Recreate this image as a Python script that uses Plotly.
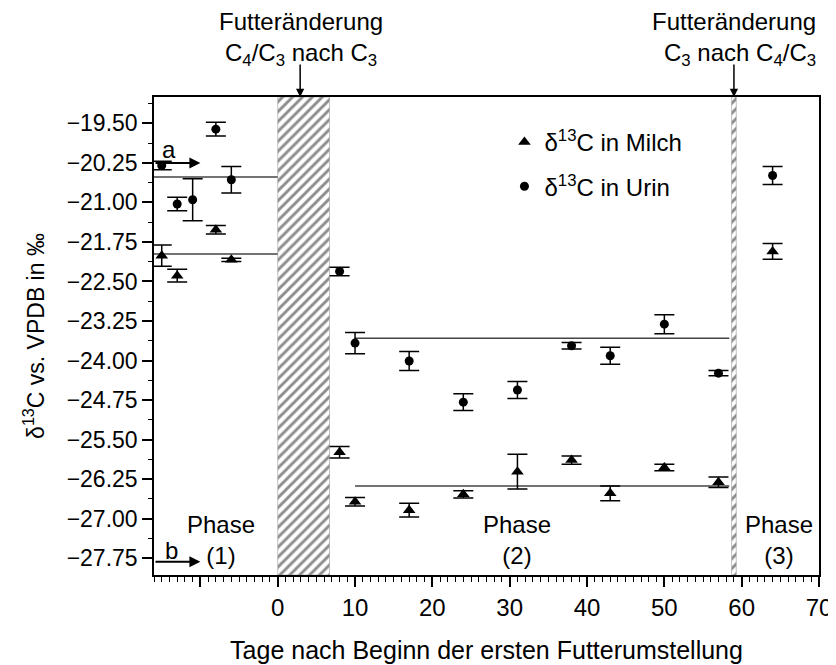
import plotly.graph_objects as go

# days after start of first feed change
milch_days = [-15, -13, -8, -6, 8, 10, 17, 24, 31, 38, 43, 50, 57, 64]
milch_d13c = [-22.01, -22.39, -21.52, -22.09, -25.74, -26.68, -26.84, -26.54,
              -26.11, -25.89, -26.52, -26.03, -26.31, -21.93]
milch_err = [0.20, 0.12, 0.08, 0.03, 0.11, 0.08, 0.13, 0.07,
             0.33, 0.08, 0.14, 0.06, 0.10, 0.15]

urin_days = [-15, -13, -11, -8, -6, 8, 10, 17, 24, 31, 38, 43, 50, 57, 64]
urin_d13c = [-20.30, -21.03, -20.95, -19.61, -20.57, -22.31, -23.67, -24.01,
             -24.79, -24.56, -23.72, -23.91, -23.31, -24.24, -20.49]
urin_err = [0.08, 0.13, 0.40, 0.13, 0.25, 0.08, 0.20, 0.18,
            0.16, 0.16, 0.06, 0.16, 0.18, 0.05, 0.17]

# phase mean lines (phase 1 and phase 2)
mean_start = [-16, 10]
mean_end = [0, 58.4]
mean_urin = [-20.52, -23.58]
mean_milch = [-21.98, -26.38]

# feed change periods (hatched)
change_start = [0, 58.7]
change_end = [6.7, 59.3]

X_RANGE = [-16, 70]
Y_RANGE = [-28.07, -19.0]

FONT = "Liberation Sans, Arial, sans-serif"

fig = go.Figure()

# hatched feed-change periods
fig.add_trace(go.Bar(
    x=[(s + e) / 2 for s, e in zip(change_start, change_end)],
    width=[e - s for s, e in zip(change_start, change_end)],
    base=Y_RANGE[0],
    y=[Y_RANGE[1] - Y_RANGE[0]] * len(change_start),
    marker=dict(
        color='white',
        line=dict(color='#999999', width=0.6),
        pattern=dict(shape='/', fgcolor='#1a1a1a', bgcolor='white',
                     size=7, solidity=0.42),
    ),
    showlegend=False,
    hoverinfo='skip',
))

# mean lines
for s, e, m in zip(mean_start, mean_end, mean_urin):
    fig.add_trace(go.Scatter(x=[s, e], y=[m, m], mode='lines',
                             line=dict(color='#444444', width=1.5),
                             showlegend=False, hoverinfo='skip'))
for s, e, m in zip(mean_start, mean_end, mean_milch):
    fig.add_trace(go.Scatter(x=[s, e], y=[m, m], mode='lines',
                             line=dict(color='#444444', width=1.5),
                             showlegend=False, hoverinfo='skip'))

fig.add_trace(go.Scatter(
    x=milch_days, y=milch_d13c, mode='markers',
    name='δ<sup>13</sup>C in Milch', legendgroup='m',
    marker=dict(symbol='triangle-up', size=11, color='black'),
    error_y=dict(type='data', array=milch_err, color='black',
                 thickness=1.5, width=10),
))
fig.add_trace(go.Scatter(
    x=urin_days, y=urin_d13c, mode='markers',
    name='δ<sup>13</sup>C in Urin', legendgroup='u',
    marker=dict(symbol='circle', size=9, color='black'),
    error_y=dict(type='data', array=urin_err, color='black',
                 thickness=1.5, width=10),
))

annotations = [
    dict(x=3.0, y=1.053, xref='x', yref='paper', yanchor='bottom',
         text='Futteränderung<br>C<sub>4</sub>/C<sub>3</sub> nach C<sub>3</sub>',
         showarrow=False, font=dict(size=24)),
    dict(x=69.9, y=1.053, xref='x', yref='paper', xanchor='right', yanchor='bottom',
         text='Futteränderung<br>C<sub>3</sub> nach C<sub>4</sub>/C<sub>3</sub>',
         showarrow=False, align='right', font=dict(size=24)),
    # arrows to feed changes
    dict(x=2.9, y=1, xref='x', yref='paper', ax=0, ay=-34, text='',
         showarrow=True, arrowhead=2, arrowsize=1.1, arrowwidth=1.5, arrowcolor='black'),
    dict(x=59.0, y=1, xref='x', yref='paper', ax=0, ay=-34, text='',
         showarrow=True, arrowhead=2, arrowsize=1.1, arrowwidth=1.5, arrowcolor='black'),
    # a / b markers
    dict(x=-10, y=-20.25, ax=-16, ay=-20.25, xref='x', yref='y', axref='x', ayref='y',
         text='', showarrow=True, arrowhead=2, arrowsize=1.1, arrowwidth=2, arrowcolor='black'),
    dict(x=-14.1, y=-20.0, text='a', showarrow=False, font=dict(size=24)),
    dict(x=-10, y=-27.82, ax=-16, ay=-27.82, xref='x', yref='y', axref='x', ayref='y',
         text='', showarrow=True, arrowhead=2, arrowsize=1.1, arrowwidth=2, arrowcolor='black'),
    dict(x=-13.7, y=-27.6, text='b', showarrow=False, font=dict(size=24)),
    # phase labels
    dict(x=-7.3, y=-27.40, text='Phase<br>(1)', showarrow=False, font=dict(size=24)),
    dict(x=31, y=-27.40, text='Phase<br>(2)', showarrow=False, font=dict(size=24)),
    dict(x=64.8, y=-27.40, text='Phase<br>(3)', showarrow=False, font=dict(size=24)),
]

# page body adds an 8px margin, so the figure is 8px smaller and margins shifted
fig.update_layout(
    width=828, height=657,
    margin=dict(l=146, r=17, t=89, b=90, autoexpand=False),
    plot_bgcolor='white', paper_bgcolor='white',
    font=dict(family=FONT, size=24, color='black'),
    barmode='overlay',
    annotations=annotations,
    showlegend=True,
    legend=dict(x=0.527, y=0.952, xanchor='left', yanchor='top',
                bgcolor='rgba(0,0,0,0)', font=dict(size=24),
                tracegroupgap=10, itemwidth=30),
    xaxis=dict(
        range=X_RANGE, automargin=False,
        tickvals=[-10, 0, 10, 20, 30, 40, 50, 60, 70],
        ticktext=['', '0', '10', '20', '30', '40', '50', '60', '70'],
        ticks='outside', ticklen=10, tickwidth=1.5, tickcolor='black',
        minor=dict(dtick=1, ticks='outside', ticklen=5, tickwidth=1, tickcolor='black'),
        showline=True, linecolor='black', linewidth=1.5, mirror=True,
        showgrid=False, zeroline=False,
        tickfont=dict(size=24),
        title=dict(text='Tage nach Beginn der ersten Futterumstellung',
                   font=dict(size=25), standoff=22),
    ),
    yaxis=dict(
        range=Y_RANGE, automargin=False,
        tickvals=[-19.5, -20.25, -21.0, -21.75, -22.5, -23.25, -24.0,
                  -24.75, -25.5, -26.25, -27.0, -27.75],
        tickformat='.2f',
        ticks='outside', ticklen=10, tickwidth=1.5, tickcolor='black',
        minor=dict(dtick=0.375, tick0=-19.5, ticks='outside', ticklen=4,
                   tickwidth=1, tickcolor='black'),
        showline=True, linecolor='black', linewidth=1.5, mirror=True,
        showgrid=False, zeroline=False,
        tickfont=dict(size=23),
        title=dict(text='δ<sup>13</sup>C vs. VPDB in ‰', font=dict(size=23), standoff=16),
    ),
)

fig.write_html("out.html")
